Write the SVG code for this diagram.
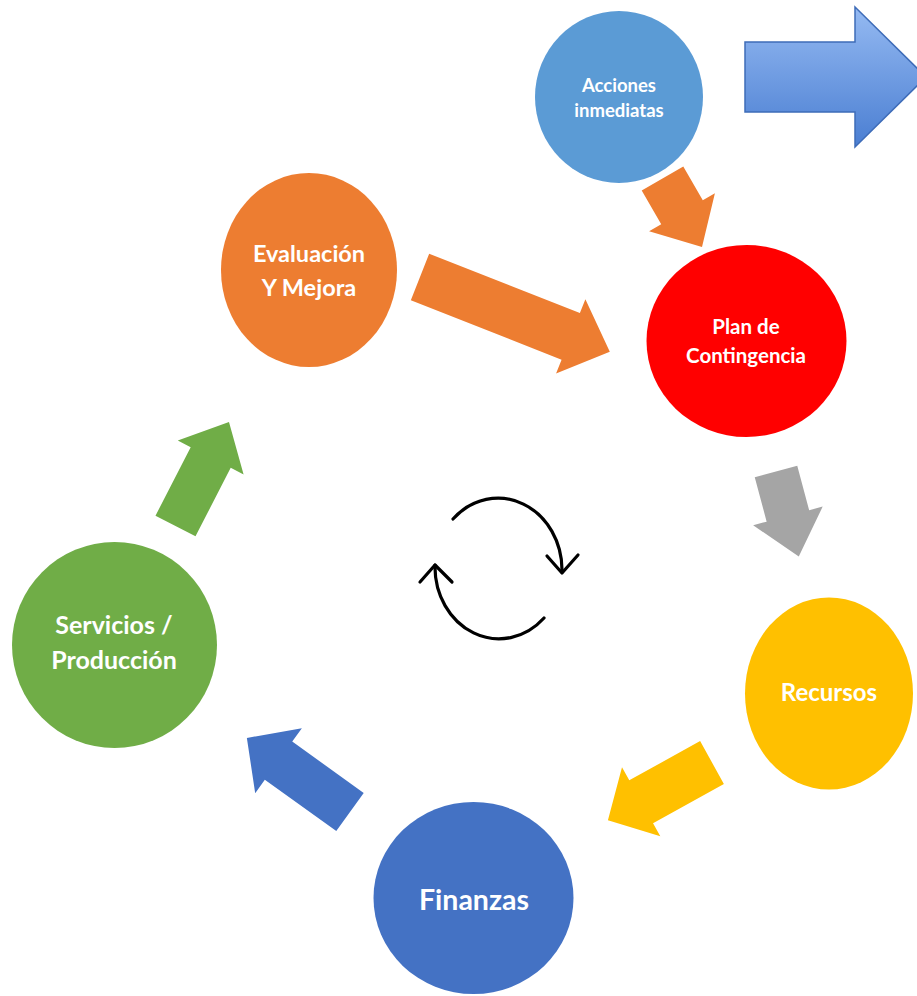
<svg xmlns="http://www.w3.org/2000/svg" width="917" height="996" viewBox="0 0 917 996">
<defs>
<linearGradient id="bigBlue" x1="0" y1="0" x2="0" y2="1">
<stop offset="0" stop-color="#95baf2"/>
<stop offset="1" stop-color="#4a7ed2"/>
</linearGradient>
</defs>
<style>
text{font-family:Lato,"Liberation Sans",sans-serif;font-weight:bold;fill:#ffffff;text-anchor:middle}
.cyc{fill:none;stroke:#000;stroke-width:3.2;stroke-linecap:round;stroke-linejoin:round}
</style>
<rect width="917" height="996" fill="#ffffff"/>
<g id="connectors">
<path d="M745,42 H855 V7 L926,77 L855,147 V112 H745 Z" fill="url(#bigBlue)" stroke="#3e6cb8" stroke-width="1.5"/>
<polygon transform="translate(662.5,178.5) rotate(60)" points="0,-24 39,-24 39,-38 79,0 39,38 39,24 0,24" fill="#ed7d31"/>
<polygon transform="translate(420,277) rotate(21.5)" points="0,-25 162,-25 162,-40 204,0 162,40 162,25 0,25" fill="#ed7d31"/>
<polygon transform="translate(776,471.5) rotate(75)" points="0,-22 46,-22 46,-36 88,0 46,36 46,22 0,22" fill="#a5a5a5"/>
<polygon transform="translate(712,762.5) rotate(151)" points="0,-24.5 81,-24.5 81,-39.5 119,0 81,39.5 81,24.5 0,24.5" fill="#ffc000"/>
<polygon transform="translate(350,812) rotate(-144.3)" points="0,-23.5 88,-23.5 88,-40 127,0 88,40 88,23.5 0,23.5" fill="#4472c4"/>
<polygon transform="translate(175.5,526) rotate(-62.8)" points="0,-22.5 77,-22.5 77,-37 117,0 77,37 77,22.5 0,22.5" fill="#70ad47"/>
</g>
<g id="node-acciones">
<ellipse cx="619" cy="97" rx="84" ry="86" fill="#5b9bd5"/>
<text x="619" y="92" font-size="18.5">Acciones</text>
<text x="619" y="117" font-size="18.5">inmediatas</text>
</g>
<g id="node-plan">
<ellipse cx="746.5" cy="341" rx="100" ry="96" fill="#ff0000"/>
<text x="746" y="334" font-size="20.5">Plan de</text>
<text x="746" y="363" font-size="20.5">Contingencia</text>
</g>
<g id="node-evaluacion">
<ellipse cx="309" cy="270" rx="88" ry="97" fill="#ed7d31"/>
<text x="309" y="262" font-size="23.5">Evaluación</text>
<text x="309" y="296" font-size="23.5">Y Mejora</text>
</g>
<g id="node-recursos">
<ellipse cx="829" cy="693.5" rx="84" ry="96" fill="#ffc000"/>
<text x="829" y="701" font-size="24">Recursos</text>
</g>
<g id="node-finanzas">
<ellipse cx="473.5" cy="898" rx="100" ry="96" fill="#4472c4"/>
<text x="474" y="910" font-size="28.5">Finanzas</text>
</g>
<g id="node-servicios">
<ellipse cx="114.5" cy="645" rx="102.5" ry="103" fill="#70ad47"/>
<text x="114" y="634" font-size="25">Servicios /</text>
<text x="114" y="669" font-size="25">Producción</text>
</g>
<g id="cycle-icon">
<path class="cyc" d="M453,519 A64,72 0 0 1 562,572"/>
<polyline class="cyc" points="547,556 562,573 578,555"/>
<path class="cyc" d="M544,618 A64,72 0 0 1 435,565"/>
<polyline class="cyc" points="420,582 435,565 452,582"/>
</g>
</svg>
